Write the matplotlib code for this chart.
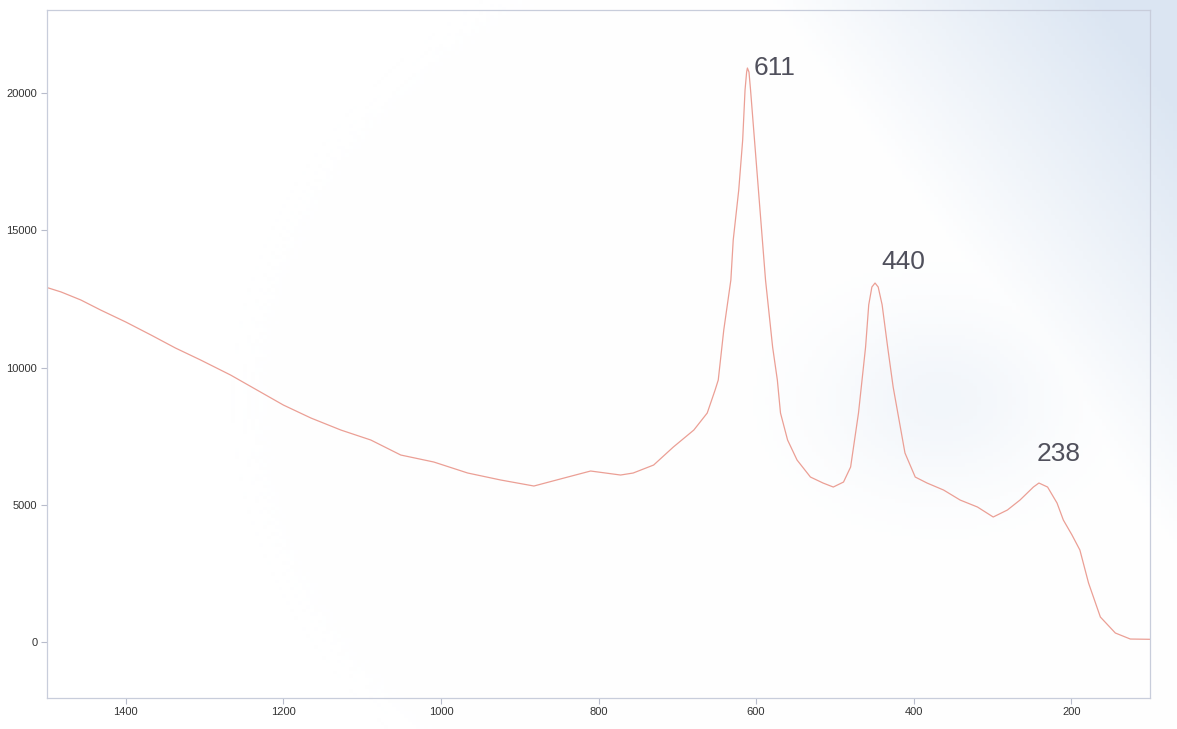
import numpy as np
import matplotlib
matplotlib.use("Agg")
import matplotlib.pyplot as plt

# Raman shift (cm-1) and intensity
wavenumber = [1498, 1482, 1457, 1432, 1400, 1368, 1337, 1305, 1267, 1229, 1200, 1165,
              1127, 1089, 1051, 1009, 966, 924, 882, 839, 810, 772, 756, 730, 705, 679,
              662, 652, 648, 641, 632, 629, 622, 617, 614, 612, 611, 609, 607, 602, 597,
              592, 588, 579, 573, 569, 560,
              548, 531, 515, 502, 489, 480, 470, 461, 457, 453, 449, 445, 440, 433, 426,
              411, 398, 383, 362, 341, 319, 299, 281, 265, 248, 241, 230, 218, 210, 199,
              189, 178, 163, 144, 125, 100]
intensity = [12893, 12748, 12457, 12093, 11656, 11183, 10710, 10273, 9727, 9108, 8635, 8162,
             7725, 7362, 6816, 6561, 6161, 5906, 5688, 6015, 6234, 6088, 6161, 6452, 7107, 7725,
             8344, 9181, 9545, 11365, 13184, 14640, 16459, 18279, 20098, 20750, 20899, 20750, 20098,
             18279, 16459,
             14640, 13184, 10746, 9545, 8344, 7362,
             6634, 6015, 5797, 5651, 5833, 6379, 8344, 10746, 12282, 12930, 13075, 12930, 12282,
             10746, 9290,
             6889, 6015, 5797, 5542, 5178, 4924, 4560, 4815, 5178, 5651, 5797, 5651, 5069, 4451,
             3905, 3359, 2158, 921, 339, 120, 110]

x_ticks = [1400, 1200, 1000, 800, 600, 400, 200]
y_ticks = [0, 5000, 10000, 15000, 20000]

peak_labels = ["611", "440", "238"]

W, H = 1177, 729
fig = plt.figure(figsize=(W / 100, H / 100), dpi=100)

# scanned-paper background tint (blue cast towards the top right)
bg = fig.add_axes([0, 0, 1, 1], zorder=-10)
gx, gy = np.meshgrid(np.linspace(0, 1, 300), np.linspace(0, 1, 200))
t1 = np.clip((gx - 0.75) * 3.5 - gy * 1.6 + 0.35, 0, 1)
t2 = 0.35 * np.exp(-(((gx - 0.80) / 0.10) ** 2 + ((gy - 0.55) / 0.12) ** 2))
t = np.clip(np.maximum(t1, t2), 0, 1)
c0 = np.array([1.0, 1.0, 1.0])
c1 = np.array([0.86, 0.90, 0.95])
img = c0[None, None, :] * (1 - t[..., None]) + c1[None, None, :] * t[..., None]
bg.imshow(img, aspect="auto", extent=[0, 1, 0, 1], origin="upper")
bg.axis("off")

ax = fig.add_axes([47 / W, 1 - 697.7 / H, (1150 - 47) / W, (697.7 - 10) / H])
ax.set_facecolor("none")
ax.plot(wavenumber, intensity, color="#eb9f95", lw=0.9)

ax.set_xlim(1500, 100)
ax.set_ylim(-2015, 23010)
ax.set_xticks(x_ticks)
ax.set_yticks(y_ticks)

for s in ax.spines.values():
    s.set_color("#c8cddb")
    s.set_linewidth(0.9)
ax.tick_params(axis="both", direction="out", length=4, width=0.8, color="#b8bccb",
               labelsize=8, labelcolor="#333333", pad=3)
for lab in ax.get_xticklabels() + ax.get_yticklabels():
    lab.set_family(["Liberation Sans", "DejaVu Sans"])

# handwritten peak annotations
offsets = [(775, 68), (903, 262), (1059, 454)]
for lab, (px, py) in zip(peak_labels, offsets):
    fig.text(px / W, 1 - py / H, lab, ha="center", va="center", fontsize=19,
             color="#50505c", family=["Liberation Sans", "DejaVu Sans"])

fig.savefig("out.png", dpi=100)
